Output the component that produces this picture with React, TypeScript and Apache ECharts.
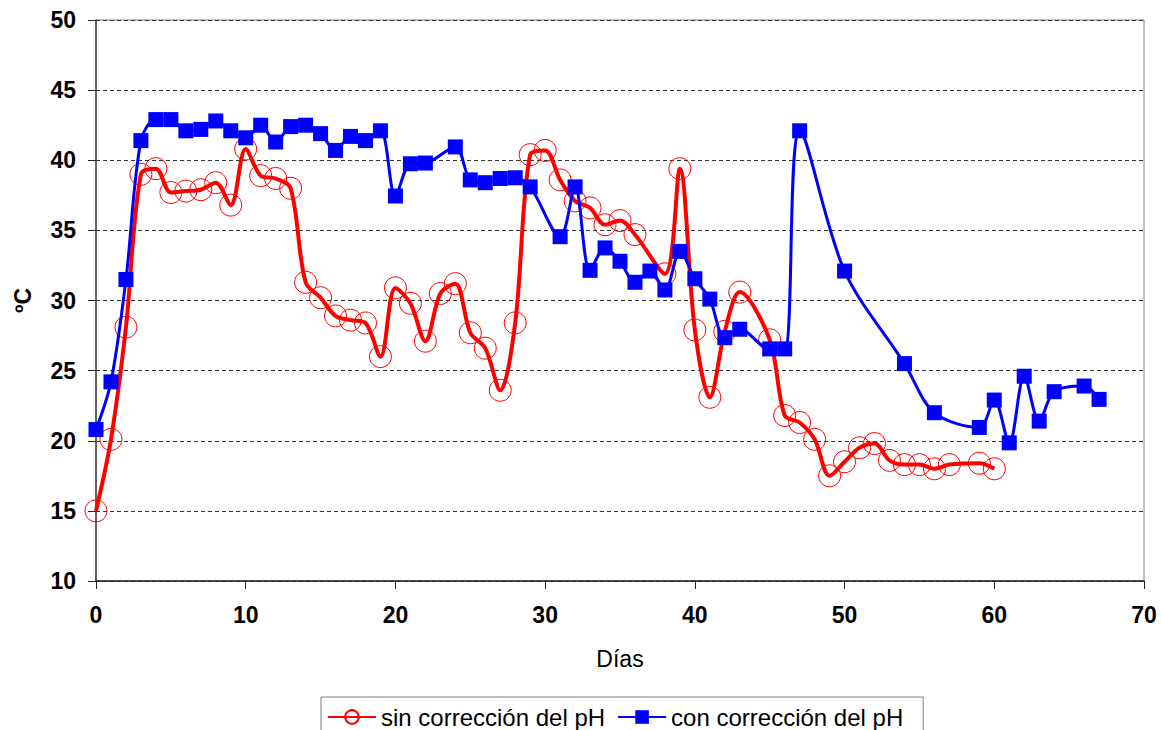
import React, { useEffect, useRef } from "react";
import * as echarts from "echarts";

const redDays = [
  0, 1, 2, 3, 4, 5, 6, 7, 8, 9, 10, 11, 12, 13, 14, 15, 16, 17, 18, 19, 20,
  21, 22, 23, 24, 25, 26, 27, 28, 29, 30, 31, 32, 33, 34, 35, 36, 38, 39, 40,
  41, 42, 43, 45, 46, 47, 48, 49, 50, 51, 52, 53, 54, 55, 56, 57, 59, 60,
];
const redTemps = [
  15.0, 20.1, 28.1, 39.0, 39.4, 37.7, 37.8, 37.9, 38.4, 36.8, 40.8, 38.9, 38.7,
  38.0, 31.3, 30.2, 28.9, 28.6, 28.4, 26.0, 30.9, 29.8, 27.1, 30.5, 31.2, 27.7,
  26.6, 23.6, 28.4, 40.4, 40.7, 38.6, 37.1, 36.6, 35.4, 35.7, 34.7, 31.9, 39.4,
  27.9, 23.1, 27.8, 30.6, 27.2, 21.8, 21.3, 20.1, 17.5, 18.5, 19.5, 19.8, 18.6,
  18.3, 18.3, 18.0, 18.3, 18.4, 18.0,
];

const blueDays = [
  0, 1, 2, 3, 4, 5, 6, 7, 8, 9, 10, 11, 12, 13, 14, 15, 16, 17, 18, 19, 20,
  21, 22, 24, 25, 26, 27, 28, 29, 31, 32, 33, 34, 35, 36, 37, 38, 39, 40, 41,
  42, 43, 45, 46, 47, 50, 54, 56, 59, 60, 61, 62, 63, 64, 66, 67,
];
const blueTemps = [
  20.8, 24.2, 31.5, 41.4, 42.9, 42.9, 42.1, 42.2, 42.8, 42.1, 41.6, 42.5, 41.3,
  42.4, 42.5, 41.9, 40.7, 41.7, 41.4, 42.1, 37.45, 39.75, 39.8, 40.95, 38.6,
  38.4, 38.7, 38.75, 38.1, 34.55, 38.1, 32.15, 33.75, 32.8, 31.3, 32.1, 30.75,
  33.5, 31.55, 30.1, 27.35, 27.95, 26.55, 26.55, 42.1, 32.1, 25.5, 22.0, 20.95,
  22.9, 19.85, 24.6, 21.4, 23.5, 23.9, 22.95,
];

const seriesNames = ["sin corrección del pH", "con corrección del pH"];
const xAxisTitle = "Días";
const yAxisTitle = "ºC";

const FONT = "'Liberation Sans', Arial, sans-serif";

export default function App() {
  const ref = useRef<HTMLDivElement>(null);

  useEffect(() => {
    if (!ref.current) return;
    const chart = echarts.init(ref.current, null, { renderer: "svg" });
    const redData = redDays.map((d, i) => [d, redTemps[i]]);
    const blueData = blueDays.map((d, i) => [d, blueTemps[i]]);

    chart.setOption({
      animation: false,
      backgroundColor: "#ffffff",
      textStyle: { fontFamily: FONT },
      grid: {
        left: 96,
        right: 17,
        top: 20,
        bottom: 149,
        show: true,
        borderColor: "#808080",
        borderWidth: 1,
        backgroundColor: "transparent",
      },
      legend: {
        left: 321,
        top: 697,
        orient: "horizontal",
        itemWidth: 48,
        itemHeight: 17,
        itemGap: 12,
        padding: [8, 20, 20, 6],
        borderColor: "#808080",
        borderWidth: 1,
        textStyle: { fontSize: 24, fontFamily: FONT, color: "#000" },
        data: seriesNames,
      },
      xAxis: {
        type: "value",
        min: 0,
        max: 70,
        interval: 10,
        name: xAxisTitle,
        nameLocation: "middle",
        nameGap: 66,
        nameTextStyle: { fontSize: 23, fontFamily: FONT, color: "#000" },
        axisLine: { show: true, lineStyle: { color: "#222", width: 1.5 } },
        axisTick: { show: true, length: 8, inside: false, lineStyle: { color: "#222" } },
        axisLabel: {
          fontSize: 23,
          fontWeight: "bold",
          fontFamily: FONT,
          color: "#000",
          margin: 22,
        },
        splitLine: { show: false },
      },
      yAxis: {
        type: "value",
        min: 10,
        max: 50,
        interval: 5,
        name: yAxisTitle,
        nameLocation: "middle",
        nameGap: 62,
        nameRotate: 90,
        nameTextStyle: {
          fontSize: 23,
          fontWeight: "bold",
          fontFamily: FONT,
          color: "#000",
        },
        axisLine: { show: true, lineStyle: { color: "#444", width: 1.5 } },
        axisTick: { show: true, length: 8, inside: false, lineStyle: { color: "#222" } },
        axisLabel: {
          fontSize: 23,
          fontWeight: "bold",
          fontFamily: FONT,
          color: "#000",
          margin: 20,
        },
        splitLine: {
          show: true,
          lineStyle: { color: "#333", type: [4, 3], width: 1 },
        },
      },
      series: [
        {
          name: seriesNames[0],
          type: "line",
          data: redData,
          smooth: 0.33,
          symbol: "circle",
          symbolSize: 22,
          lineStyle: { color: "#ff0000", width: 4 },
          itemStyle: {
            color: "rgba(255,255,255,0)",
            borderColor: "#ff0000",
            borderWidth: 1,
          },
          z: 2,
        },
        {
          name: seriesNames[1],
          type: "line",
          data: blueData,
          smooth: 0.33,
          symbol: "rect",
          symbolSize: 15,
          lineStyle: { color: "#0000ff", width: 3 },
          itemStyle: { color: "#0000ff" },
          z: 3,
        },
      ],
    });

    return () => chart.dispose();
  }, []);

  return (
    <div
      ref={ref}
      style={{ position: "fixed", left: 0, top: 0, width: 1161, height: 730 }}
    />
  );
}
